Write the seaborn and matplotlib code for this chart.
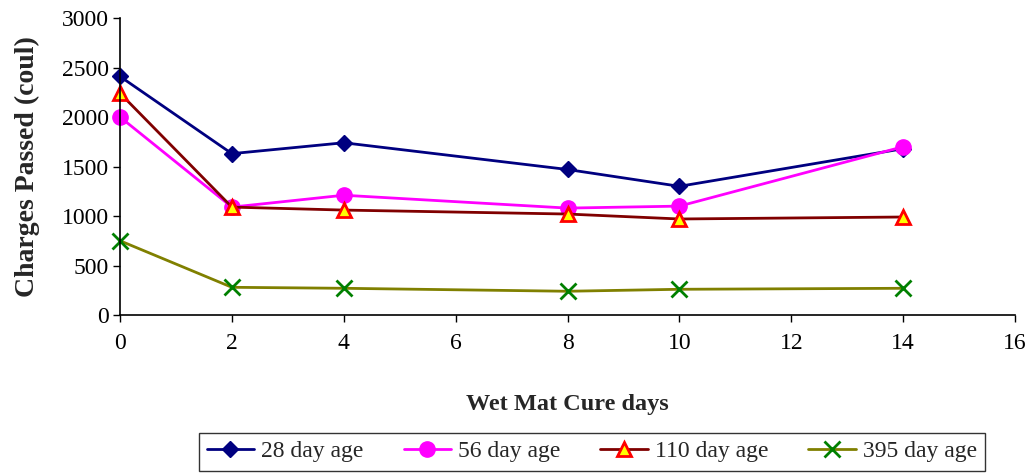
import matplotlib
matplotlib.use("Agg")
import pandas as pd
import matplotlib.pyplot as plt
import seaborn as sns

cure_days = [0, 2, 4, 8, 10, 14]
age_28 = [2410, 1630, 1740, 1470, 1300, 1680]
age_56 = [2000, 1090, 1210, 1080, 1100, 1700]
age_110 = [2240, 1090, 1060, 1020, 970, 990]
age_395 = [750, 280, 270, 240, 260, 270]
series_names = ["28 day age", "56 day age", "110 day age", "395 day age"]

df = pd.DataFrame({"days": cure_days * 4,
                   "charge": age_28 + age_56 + age_110 + age_395,
                   "age": sum([[n] * len(cure_days) for n in series_names], [])})

sns.set_style("white")
plt.rcParams["font.family"] = ["Liberation Serif", "DejaVu Serif"]

fig = plt.figure(figsize=(10.31, 4.74), dpi=100)
ax = fig.add_axes([0.1164, 0.3354, 0.8681, 0.6266])

styles = {
    "28 day age": dict(color="#000080", marker="D", ms=8, mfc="#000080", mec="#000080"),
    "56 day age": dict(color="#ff00ff", marker="o", ms=11, mfc="#ff00ff", mec="#ff00ff"),
    "110 day age": dict(color="#800000", marker="^", ms=10, mfc="#ffff00", mec="#ff0000", mew=2),
    "395 day age": dict(color="#808000", marker="x", ms=11, mec="#008000", mew=2),
}

for name in series_names:
    sub = df[df["age"] == name]
    st = styles[name]
    sns.lineplot(data=sub, x="days", y="charge", ax=ax, color=st["color"], lw=2,
                 label=name, legend=False)
    ln = ax.lines[-1]
    ln.set_marker(st["marker"])
    ln.set_markersize(st["ms"])
    ln.set_markerfacecolor(st.get("mfc", st["color"]))
    ln.set_markeredgecolor(st["mec"])
    ln.set_markeredgewidth(st.get("mew", 1))
    ln.set_clip_on(False)

ax.set_xlim(0, 16)
ax.set_ylim(0, 3000)
ax.set_xticks(range(0, 17, 2))
ax.set_yticks(range(0, 3001, 500))
ax.tick_params(axis="both", labelsize=17, direction="out", length=5, width=1,
               bottom=True, left=True, colors="black")
ax.tick_params(axis="x", pad=8)
ax.tick_params(axis="y", pad=3)
for s in ["top", "right"]:
    ax.spines[s].set_visible(False)
for s in ["left", "bottom"]:
    ax.spines[s].set_color("black")
    ax.spines[s].set_linewidth(1.2)

ax.set_xlabel("Wet Mat Cure days", fontsize=17.5, fontweight="bold", labelpad=29)
ax.set_ylabel("Charges Passed (coul)", fontsize=20, fontweight="bold", labelpad=16)

handles, labels = ax.get_legend_handles_labels()
leg = fig.legend(handles, labels, loc="center", bbox_to_anchor=(0.574, 0.047), ncol=4,
                 fontsize=17, frameon=True, fancybox=False, edgecolor="black",
                 handlelength=2.0, handletextpad=0.3, columnspacing=1.7,
                 borderpad=0.35)
leg.get_frame().set_linewidth(1)

plt.savefig("out.png", dpi=100)
plt.close()
